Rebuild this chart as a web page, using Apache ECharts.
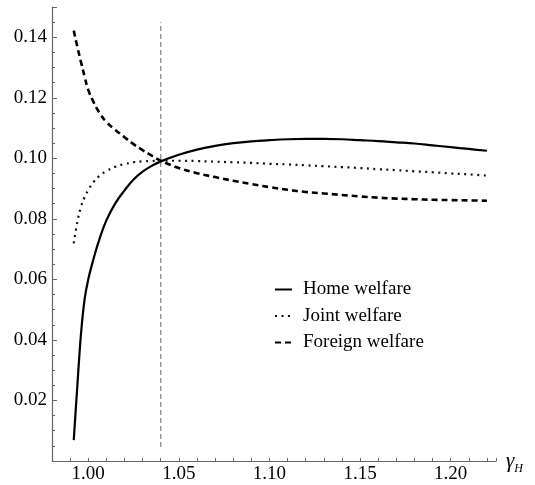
<!DOCTYPE html>
<html>
<head>
<meta charset="utf-8">
<script src="https://cdn.jsdelivr.net/npm/echarts@6/dist/echarts.min.js"></script>
<style>html,body{margin:0;padding:0;background:#fff}#c{width:535px;height:485px}</style>
</head>
<body>
<div id="c"></div>
<script>
var xs = [0.992,0.994,0.996,0.998,1.000,1.003,1.006,1.010,1.015,1.020,1.025,1.030,1.035,1.040,1.050,1.060,1.070,1.080,1.090,1.100,1.110,1.120,1.130,1.140,1.150,1.160,1.170,1.180,1.190,1.200,1.210,1.220];
var homeWelfare = [0.0069,0.0250,0.0420,0.0535,0.0600,0.0670,0.0730,0.0795,0.0852,0.0894,0.0930,0.0956,0.0975,0.0990,0.1012,0.1029,0.1041,0.1050,0.1056,0.1060,0.1063,0.1064,0.1064,0.1063,0.1060,0.1057,0.1053,0.1049,0.1043,0.1037,0.1031,0.1025];
var jointWelfare = [0.0719,0.0790,0.0840,0.0872,0.0895,0.0922,0.0941,0.0958,0.0972,0.0981,0.0987,0.0990,0.0991,0.0992,0.0992,0.0991,0.0989,0.0987,0.0985,0.0982,0.0980,0.0977,0.0974,0.0971,0.0968,0.0964,0.0961,0.0957,0.0954,0.0950,0.0947,0.0943];
var foreignWelfare = [0.1422,0.1368,0.1318,0.1270,0.1226,0.1185,0.1152,0.1120,0.1094,0.1070,0.1047,0.1027,0.1009,0.0992,0.0968,0.0951,0.0938,0.0926,0.0915,0.0905,0.0896,0.0889,0.0884,0.0879,0.0874,0.0870,0.0867,0.0865,0.0863,0.0862,0.0861,0.0860];
var refLine = [[1.04, 0.0046],[1.04, 0.145]];
var seriesNames = ['Home welfare','Joint welfare','Foreign welfare'];
var yTickLabels = [0.02,0.04,0.06,0.08,0.10,0.12,0.14];
var xTickLabels = [1.00,1.05,1.10,1.15,1.20];

function pairs(v){ return xs.map(function(x,i){ return [x, v[i]]; }); }
function inList(list, v){ for (var i=0;i<list.length;i++){ if (Math.abs(list[i]-v)<1e-7) return true; } return false; }

var FONT = 'Liberation Serif';
var FS = 19;
var AX = '#666';
var chart = echarts.init(document.getElementById('c'), null, {renderer:'canvas'});
chart.setOption({
  animation:false,
  backgroundColor:'#fff',
  textStyle:{fontFamily:FONT},
  grid:{left:52, right:39, top:7, bottom:24, containLabel:false},
  legend:{
    orient:'vertical', left:269, top:275, itemWidth:17, itemHeight:10, itemGap:7.5,
    data:seriesNames,
    itemStyle:{opacity:0},
    textStyle:{fontFamily:FONT, fontSize:FS, color:'#000', padding:[0,0,0,6]}
  },
  xAxis:[{
    type:'value', min:0.98, max:1.225, interval:0.01,
    axisLine:{show:true, onZero:false, lineStyle:{color:AX, width:1.2}},
    axisTick:{show:true, inside:true, length:3, lineStyle:{color:AX, width:1}},
    splitLine:{show:false},
    axisLabel:{margin:4, fontFamily:FONT, fontSize:FS, color:'#000',
      formatter:function(v){ return inList(xTickLabels, v) ? v.toFixed(2) : ''; }},
    name:'{g|γ}{h|H}', nameLocation:'end', nameGap:10,
    nameTextStyle:{rich:{
      g:{fontFamily:FONT, fontSize:21, fontStyle:'italic', color:'#000', verticalAlign:'bottom'},
      h:{fontFamily:FONT, fontSize:12, fontStyle:'italic', color:'#000', verticalAlign:'bottom', padding:[0,0,-3,0]}
    }}
  }],
  yAxis:[{
    type:'value', min:0, max:0.15, interval:0.005,
    axisLine:{show:true, onZero:false, lineStyle:{color:AX, width:1.2}},
    axisTick:{show:true, inside:true, length:3, lineStyle:{color:AX, width:1}},
    splitLine:{show:false},
    axisLabel:{margin:5, fontFamily:FONT, fontSize:FS, color:'#000',
      formatter:function(v){ return inList(yTickLabels, v) ? v.toFixed(2) : ''; }}
  },{
    type:'value', min:0, max:0.15, interval:0.02, position:'left',
    axisLine:{show:false},
    axisTick:{show:true, inside:true, length:5, lineStyle:{color:AX, width:1}},
    splitLine:{show:false}, axisLabel:{show:false}
  }],
  series:[
    {type:'line', data:refLine, symbol:'none', silent:true, z:1,
     lineStyle:{color:'#888', width:1.3, type:[5,3]}},
    {name:seriesNames[0], type:'line', data:pairs(homeWelfare), symbol:'none', smooth:0.4, z:3,
     itemStyle:{color:'#000'}, lineStyle:{color:'#000', width:2.2, type:'solid'}},
    {name:seriesNames[1], type:'line', data:pairs(jointWelfare), symbol:'none', smooth:0.4, z:3,
     itemStyle:{color:'#000'}, lineStyle:{color:'#111', width:2.2, type:[2,4.5]}},
    {name:seriesNames[2], type:'line', data:pairs(foreignWelfare), symbol:'none', smooth:0.4, z:3,
     itemStyle:{color:'#000'}, lineStyle:{color:'#000', width:2.6, type:[6,4]}}
  ]
});
</script>
</body>
</html>
